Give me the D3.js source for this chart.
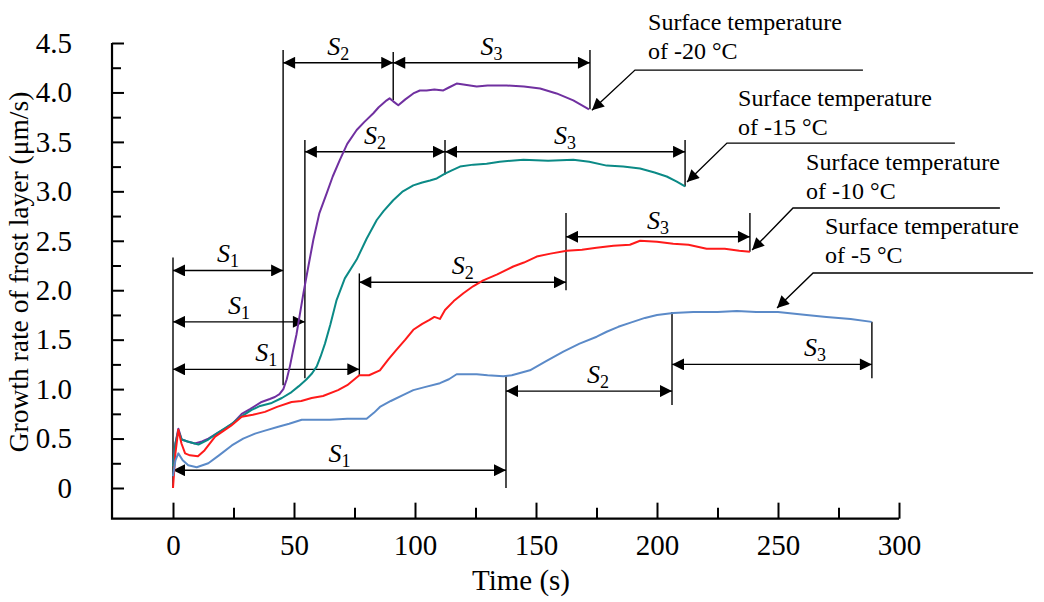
<!DOCTYPE html>
<html>
<head>
<meta charset="utf-8">
<script src="https://cdn.jsdelivr.net/npm/d3@7"></script>
<style>
  body { margin: 0; background: #fff; }
  text { font-family: "Liberation Serif", "Times New Roman", serif; fill: #000; }
</style>
</head>
<body>
<svg></svg>
<script>
const width = 1044;
const height = 602;

const xTicksMajor = [0, 50, 100, 150, 200, 250, 300];
const xTicksMinor = [25, 75, 125, 175, 225, 275];
const yTicksMajor = [0, 0.5, 1, 1.5, 2, 2.5, 3, 3.5, 4, 4.5];
const yTicksMinor = [0.25, 0.75, 1.25, 1.75, 2.25, 2.75, 3.25, 3.75, 4.25];

// [time (s), growth rate (um/s)]
const surfM20 = [[0,0.25],[1,0.45],[2.2,0.60],[3.6,0.49],[6,0.47],[9,0.45],[12,0.47],[14.6,0.50],[18,0.55],[21.5,0.60],[25,0.66],[28.4,0.75],[32,0.80],[36.6,0.87],[40,0.90],[42.1,0.92],[44,0.95],[45.6,1.00],[47,1.10],[48.3,1.23],[49.7,1.40],[51,1.55],[53.9,1.97],[56,2.25],[58,2.51],[60.5,2.78],[63.5,2.98],[66,3.15],[69,3.32],[72,3.48],[75.9,3.62],[79,3.70],[82.8,3.79],[85,3.85],[88.3,3.92],[89.5,3.94],[91,3.91],[93.1,3.87],[96,3.93],[99.3,3.99],[102,4.02],[104.8,4.02],[108,4.03],[111.7,4.02],[114,4.05],[117.2,4.09],[120,4.08],[125.5,4.06],[130,4.07],[137.9,4.07],[145,4.06],[151.7,4.04],[158.5,3.99],[165.4,3.92],[171.9,3.83]];
const surfM15 = [[0,0.22],[1,0.45],[2.2,0.58],[3.6,0.49],[6,0.47],[10.5,0.44],[14.6,0.49],[18,0.55],[24.3,0.65],[28,0.72],[32.5,0.79],[36,0.83],[40.8,0.86],[45,0.91],[49,0.97],[52,1.03],[55.2,1.10],[57.5,1.16],[59.4,1.23],[61,1.33],[62.8,1.46],[65,1.65],[67.6,1.90],[71,2.12],[75.9,2.31],[80,2.52],[84.2,2.71],[87,2.80],[91,2.91],[95,3.00],[99.3,3.06],[103,3.09],[106.2,3.11],[109,3.13],[112.4,3.18],[115,3.21],[118.6,3.25],[124.1,3.27],[129.6,3.28],[135,3.30],[144.8,3.32],[155,3.31],[165.4,3.32],[172,3.30],[179.2,3.26],[186,3.25],[193,3.23],[199,3.19],[204,3.15],[208,3.10],[211.6,3.05]];
const surfM10 = [[0,0],[1,0.35],[2.2,0.59],[3.5,0.45],[5,0.35],[7,0.33],[10.3,0.32],[13,0.38],[17.4,0.52],[21,0.58],[24,0.63],[28.4,0.72],[33,0.74],[38,0.77],[43,0.82],[49,0.87],[53,0.88],[57.3,0.91],[62,0.93],[68.2,0.99],[72,1.04],[77,1.14],[81,1.14],[85.5,1.19],[89,1.30],[92.4,1.40],[96,1.50],[99.3,1.60],[103,1.66],[106,1.70],[108,1.73],[110.3,1.71],[112.4,1.80],[116,1.89],[120,1.97],[124,2.04],[128.2,2.10],[134,2.16],[140.6,2.24],[145,2.28],[150.3,2.34],[156,2.37],[162.7,2.40],[169,2.41],[175,2.43],[182,2.45],[188.8,2.46],[193,2.50],[200,2.49],[206.7,2.47],[213,2.46],[220.5,2.42],[228,2.42],[234,2.40],[238.4,2.39]];
const surfM5 = [[0,0.12],[1,0.28],[2.2,0.35],[4,0.28],[6.3,0.23],[9.8,0.21],[14.6,0.25],[19,0.33],[24.3,0.43],[29,0.50],[33.9,0.55],[38,0.58],[43.5,0.62],[48,0.65],[53.2,0.69],[60,0.69],[64.9,0.69],[72,0.70],[80,0.70],[83,0.76],[85.5,0.82],[90,0.88],[95,0.94],[99.3,0.99],[104,1.02],[110.3,1.06],[114,1.10],[117.2,1.15],[121,1.15],[125.5,1.15],[130,1.14],[136.5,1.13],[140,1.14],[147.5,1.19],[154,1.28],[161.3,1.38],[168,1.46],[175.1,1.53],[179.2,1.58],[184,1.63],[188.8,1.67],[195,1.72],[200,1.75],[206.7,1.77],[215,1.78],[225,1.78],[233,1.79],[241,1.78],[250,1.78],[261.8,1.75],[270,1.73],[280,1.71],[288.7,1.68]];

const seriesNames = ['-20', '-15', '-10', '-5'];
const seriesData = [surfM20, surfM15, surfM10, surfM5];
const seriesColors = ['#7030a0', '#0b8a86', '#ff1a1a', '#5b8ac8'];

// stage spans: subscript, start, end, level, optional label time
const spanSub = ['1', '1', '1', '1', '2', '3', '2', '3', '2', '3', '2', '3'];
const spanStart = [0, 0, 0, 0, 45.5, 91, 54.5, 112.4, 77, 162.4, 137.6, 206.2];
const spanEnd = [45.5, 54.5, 77, 137.6, 91, 172.3, 112.4, 211.6, 162.4, 238.4, 206.2, 288.8];
const spanLevel = [2.20, 1.68, 1.20, 0.18, 4.30, 4.30, 3.40, 3.40, 2.08, 2.54, 0.98, 1.25];
const spanLabelAt = [null, null, null, null, null, null, null, null, null, null, 175.6, 265.3];

// guide lines: time, from, to
const guideTime = [0, 45.5, 91, 172.3, 54.5, 112.4, 211.6, 77, 162.4, 238.4, 137.6, 206.2, 288.8];
const guideFrom = [0, 1.04, 3.92, 3.83, 1.11, 3.17, 3.05, 1.14, 2.0, 2.39, 0, 0.84, 1.11];
const guideTo = [2.33, 4.43, 4.41, 4.43, 3.52, 3.52, 3.52, 2.17, 2.78, 2.78, 1.14, 1.78, 1.68];

// callouts: text anchor, arrow tip, knee and end of the shelf line
const calloutText = [[196.3, 4.63], [233.5, 3.86], [261.6, 3.215], [269.4, 2.57]];
const calloutTip = [[173.1, 3.82], [212.4, 3.094], [239.3, 2.406], [249.6, 1.82]];
const calloutKnee = [[190.9, 4.226], [228.9, 3.488], [256.2, 2.831], [264.5, 2.174]];
const calloutEnd = [[285.1, 4.226], [323.1, 3.488], [341.7, 2.831], [355.4, 2.174]];

const xAxisFrom = -25.2;
const yAxisFrom = -0.31;

const svg = d3.select('svg')
    .attr('width', width)
    .attr('height', height);

const x = d3.scaleLinear().domain([0, 300]).range([173, 899]);
const y = d3.scaleLinear().domain([0, 4.5]).range([488, 43]);

const defs = svg.append('defs');
defs.append('marker')
    .attr('id', 'head')
    .attr('viewBox', '0 0 10 10')
    .attr('refX', 10)
    .attr('refY', 5)
    .attr('markerUnits', 'userSpaceOnUse')
    .attr('markerWidth', 15)
    .attr('markerHeight', 12)
    .attr('orient', 'auto-start-reverse')
  .append('path')
    .attr('d', 'M0,0 L10,5 L0,10 z')
    .attr('fill', '#000');

// axes
const axisG = svg.append('g');
axisG.append('path')
    .attr('d', `M${x(xAxisFrom)},${y(4.5)} V${y(yAxisFrom)} H${x(300)}`)
    .attr('fill', 'none')
    .attr('stroke', '#000')
    .attr('stroke-width', 2.2);

const xAxisG = axisG.append('g')
    .attr('transform', `translate(0,${y(yAxisFrom)})`)
    .call(d3.axisBottom(x).tickValues(xTicksMajor).tickSize(-16).tickPadding(16).tickFormat(d3.format('d')));
const xMinorG = axisG.append('g')
    .attr('transform', `translate(0,${y(yAxisFrom)})`)
    .call(d3.axisBottom(x).tickValues(xTicksMinor).tickSize(-11).tickFormat(''));
const yAxisG = axisG.append('g')
    .attr('transform', `translate(${x(xAxisFrom)},0)`)
    .call(d3.axisLeft(y).tickValues(yTicksMajor).tickSize(-12).tickPadding(40)
        .tickFormat(d => d === 0 ? '0' : d.toFixed(1)));
const yMinorG = axisG.append('g')
    .attr('transform', `translate(${x(xAxisFrom)},0)`)
    .call(d3.axisLeft(y).tickValues(yTicksMinor).tickSize(-9).tickFormat(''));

[xAxisG, xMinorG, yAxisG, yMinorG].forEach(g => {
    g.select('.domain').remove();
    g.selectAll('line').attr('stroke', '#000').attr('stroke-width', 2);
    g.selectAll('text')
        .attr('font-family', '"Liberation Serif", "Times New Roman", serif')
        .attr('font-size', 29)
        .attr('fill', '#000');
});

svg.append('text')
    .attr('x', 521)
    .attr('y', 590)
    .attr('text-anchor', 'middle')
    .attr('font-size', 29)
    .text('Time (s)');

svg.append('text')
    .attr('transform', 'translate(28,272) rotate(-90)')
    .attr('text-anchor', 'middle')
    .attr('font-size', 27.5)
    .text('Growth rate of frost layer (μm/s)');

// guides and stage spans
const annoG = svg.append('g');
annoG.selectAll('.guide').data(guideTime).enter().append('line')
    .attr('class', 'guide')
    .attr('x1', d => x(d))
    .attr('x2', d => x(d))
    .attr('y1', (d, i) => y(guideFrom[i]))
    .attr('y2', (d, i) => y(guideTo[i]))
    .attr('stroke', '#000')
    .attr('stroke-width', 1.4);

annoG.selectAll('.span').data(spanSub).enter().append('line')
    .attr('class', 'span')
    .attr('x1', (d, i) => x(spanStart[i]))
    .attr('x2', (d, i) => x(spanEnd[i]))
    .attr('y1', (d, i) => y(spanLevel[i]))
    .attr('y2', (d, i) => y(spanLevel[i]))
    .attr('stroke', '#000')
    .attr('stroke-width', 1.4)
    .attr('marker-start', 'url(#head)')
    .attr('marker-end', 'url(#head)');

const spanLabel = annoG.selectAll('.span-label').data(spanSub).enter().append('text')
    .attr('class', 'span-label')
    .attr('x', (d, i) => x(spanLabelAt[i] != null ? spanLabelAt[i] : (spanStart[i] + spanEnd[i]) / 2))
    .attr('y', (d, i) => y(spanLevel[i]) - 8)
    .attr('text-anchor', 'middle')
    .attr('font-size', 26);
spanLabel.append('tspan')
    .attr('font-style', 'italic')
    .text('S');
spanLabel.append('tspan')
    .attr('font-size', 18)
    .attr('dy', 5)
    .text(d => d);

// curves
const line = d3.line()
    .x(d => x(d[0]))
    .y(d => y(d[1]));

svg.append('g').selectAll('path').data(seriesData).enter().append('path')
    .attr('d', line)
    .attr('fill', 'none')
    .attr('stroke', (d, i) => seriesColors[i])
    .attr('stroke-width', 2)
    .attr('stroke-linejoin', 'round');

// callouts
const callG = svg.append('g');
callG.selectAll('.shelf').data(seriesNames).enter().append('path')
    .attr('class', 'shelf')
    .attr('d', (d, i) => `M${x(calloutEnd[i][0])},${y(calloutEnd[i][1])} L${x(calloutKnee[i][0])},${y(calloutKnee[i][1])} L${x(calloutTip[i][0])},${y(calloutTip[i][1])}`)
    .attr('fill', 'none')
    .attr('stroke', '#000')
    .attr('stroke-width', 1.4)
    .attr('marker-end', 'url(#head)');

const callText = callG.selectAll('.call-text').data(seriesNames).enter().append('text')
    .attr('class', 'call-text')
    .attr('x', (d, i) => x(calloutText[i][0]))
    .attr('y', (d, i) => y(calloutText[i][1]))
    .attr('font-size', 24);
callText.append('tspan')
    .text('Surface temperature');
callText.append('tspan')
    .attr('x', (d, i) => x(calloutText[i][0]))
    .attr('dy', 29)
    .text(d => `of ${d} °C`);
</script>
</body>
</html>
